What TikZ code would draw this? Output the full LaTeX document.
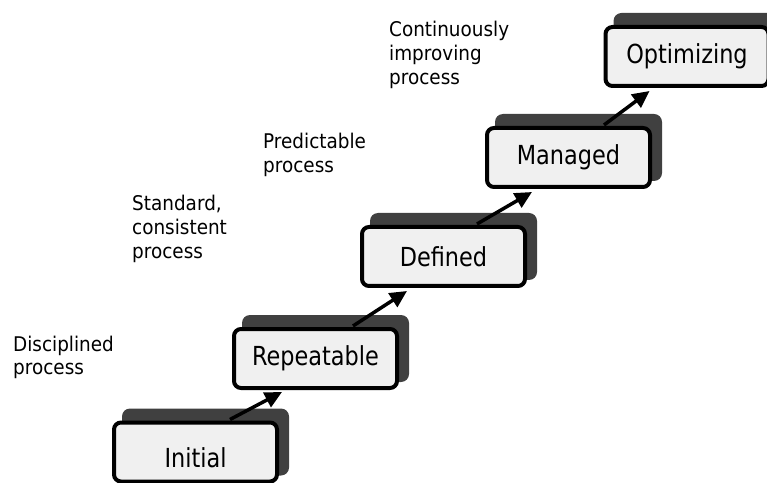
\documentclass[tikz,border=0pt]{standalone}
\usepackage{fontspec}
\setmainfont{DejaVu Sans}
\usetikzlibrary{arrows.meta,backgrounds}
\definecolor{boxfill}{HTML}{F0F0F0}
\definecolor{shgray}{HTML}{404040}
\newcommand{\boxtxt}[1]{\scalebox{1}[1.17]{\fontsize{22.4}{26}\selectfont #1}}
\newcommand{\labtxt}[1]{\scalebox{1}[1.1]{\fontsize{18.4}{21.6}\selectfont\begin{tabular}[t]{@{}l@{}}#1\end{tabular}}}
\begin{document}
\begin{tikzpicture}[x=1pt,y=1pt,
  stage/.style={draw, line width=4pt, rounded corners=7pt, fill=boxfill,
    minimum width=163pt, minimum height=59pt, inner sep=0pt},
  shadowbox/.style={fill=shgray, rounded corners=8pt},
  stepar/.style={line width=3.5pt, -{Triangle[length=17pt,width=16pt]}},
  lab/.style={anchor=base west, inner sep=0pt}]
\useasboundingbox (0,0) rectangle (767,482);
\clip (0,0) rectangle (767,482);
\node[stage, text height=30pt, text depth=0pt] (ini) at (195.5,30) {\boxtxt{Initial}};
\node[stage] (rep) at (315.5,123.5) {\boxtxt{Repeatable}};
\node[stage] (def) at (443.5,225.5) {\boxtxt{Defined}};
\node[stage] (man) at (568.5,324.5) {\boxtxt{Managed}};
\node[stage] (opt) at (687,425.5) {\boxtxt{Optimizing}};
\begin{scope}[on background layer]
\foreach \b in {ini,rep,def,man,opt}
  \fill[shadowbox] ([shift={(10pt,12pt)}]\b.north west) rectangle ([shift={(10pt,8pt)}]\b.south east);
\end{scope}
\draw[stepar] ([xshift=118pt,yshift=1pt]ini.north west) -- ([xshift=50pt,yshift=-2pt]rep.south west);
\draw[stepar] ([xshift=121pt,yshift=1pt]rep.north west) -- ([xshift=47pt,yshift=-3pt]def.south west);
\draw[stepar] ([xshift=117pt,yshift=1pt]def.north west) -- ([xshift=47pt,yshift=-3pt]man.south west);
\draw[stepar] ([xshift=119pt,yshift=1pt]man.north west) -- ([xshift=46pt,yshift=-3pt]opt.south west);
\node[lab] (l1) at (13,131) {\labtxt{Disciplined\\process}};
\node[lab] (l2) at (132,271) {\labtxt{Standard,\\consistent\\process}};
\node[lab] (l3) at (263,333) {\labtxt{Predictable\\process}};
\node[lab] (l4) at (389,445) {\labtxt{Continuously\\improving\\process}};
\end{tikzpicture}
\end{document}
